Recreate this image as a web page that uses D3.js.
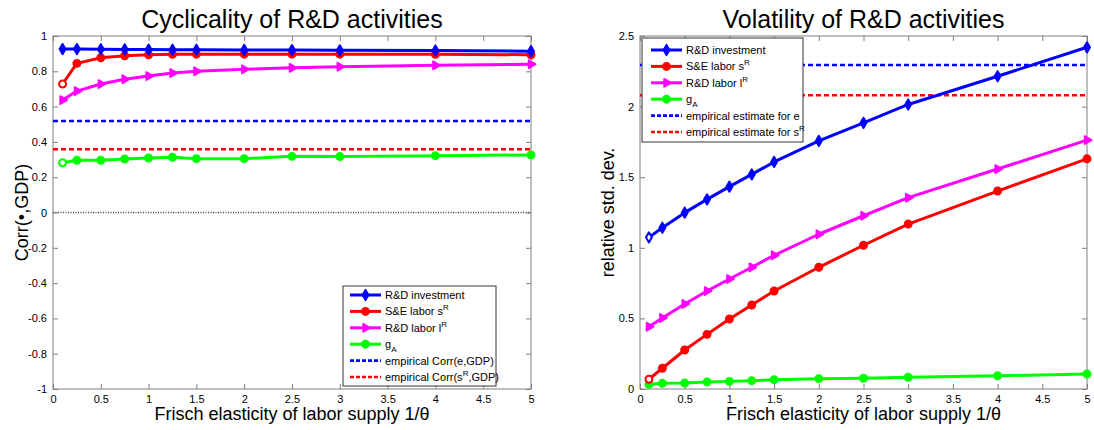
<!DOCTYPE html>
<html>
<head>
<meta charset="utf-8">
<script src="https://cdn.jsdelivr.net/npm/d3@7"></script>
<style>
  html, body { margin: 0; padding: 0; background: #fff; }
  svg text { font-family: "Liberation Sans", Arial, sans-serif; fill: #000; }
</style>
</head>
<body>
<svg id="fig" width="1094" height="430"></svg>
<script>
// Frisch elasticity grid
const frisch = [0.1, 0.25, 0.5, 0.75, 1, 1.25, 1.5, 2, 2.5, 3, 4, 5];

// Cyclicality: correlation with GDP
const corrInvest = [0.926, 0.926, 0.925, 0.924, 0.923, 0.922, 0.922, 0.921, 0.920, 0.919, 0.918, 0.914];
const corrSE     = [0.728, 0.845, 0.877, 0.888, 0.894, 0.896, 0.897, 0.897, 0.897, 0.897, 0.896, 0.894];
const corrLabor  = [0.637, 0.688, 0.728, 0.755, 0.773, 0.790, 0.800, 0.811, 0.820, 0.826, 0.834, 0.840];
const corrGA     = [0.282, 0.296, 0.296, 0.303, 0.309, 0.313, 0.305, 0.305, 0.318, 0.317, 0.322, 0.326];
const corrEmpE   = 0.518;
const corrEmpSR  = 0.358;

// Volatility: std. dev. relative to GDP
const volInvest = [1.074, 1.142, 1.249, 1.343, 1.433, 1.520, 1.608, 1.757, 1.885, 2.015, 2.215, 2.420];
const volSE     = [0.069, 0.147, 0.276, 0.387, 0.496, 0.595, 0.694, 0.862, 1.018, 1.168, 1.402, 1.630];
const volLabor  = [0.441, 0.503, 0.602, 0.694, 0.779, 0.862, 0.947, 1.096, 1.227, 1.355, 1.558, 1.763];
const volGA     = [0.033, 0.040, 0.042, 0.050, 0.054, 0.059, 0.066, 0.073, 0.076, 0.083, 0.094, 0.106];
const volEmpE   = 2.295;
const volEmpSR  = 2.080;

const xTicks = [0, 0.5, 1, 1.5, 2, 2.5, 3, 3.5, 4, 4.5, 5];
const corrTicks = [-1, -0.8, -0.6, -0.4, -0.2, 0, 0.2, 0.4, 0.6, 0.8, 1];
const volTicks = [0, 0.5, 1, 1.5, 2, 2.5];

const BLUE = "#0000ff", RED = "#ff0000", MAG = "#ff00ff", GRN = "#00ff00";
const AXIS = "#7f7f7f";

const svg = d3.select("#fig");

function fmt(v) { return String(+v.toFixed(2)); }

function panel(opt) {
  const { left, right, top, bottom, yDomain, yTicks } = opt;
  const x = d3.scaleLinear().domain([0, 5]).range([left, right]);
  const y = d3.scaleLinear().domain(yDomain).range([bottom, top]);
  const g = svg.append("g");

  // box and ticks
  g.append("rect").attr("x", left).attr("y", top)
    .attr("width", right - left).attr("height", bottom - top)
    .attr("fill", "none").attr("stroke", AXIS).attr("stroke-width", 1);

  const xb = d3.axisBottom(x).tickValues(xTicks).tickSize(-5).tickPadding(6).tickFormat(fmt);
  const xt = d3.axisTop(x).tickValues(xTicks).tickSize(-5).tickFormat("");
  const yl = d3.axisLeft(y).tickValues(yTicks).tickSize(-5).tickPadding(6).tickFormat(fmt);
  const yr = d3.axisRight(y).tickValues(yTicks).tickSize(-5).tickFormat("");

  function style(sel) {
    sel.select(".domain").remove();
    sel.selectAll(".tick line").attr("stroke", AXIS);
    sel.selectAll(".tick text").attr("font-size", 11)
      .attr("font-family", "'Liberation Sans', Arial, sans-serif").attr("fill", "#000");
  }
  g.append("g").attr("transform", `translate(0,${bottom})`).call(xb).call(style);
  g.append("g").attr("transform", `translate(0,${top})`).call(xt).call(style);
  g.append("g").attr("transform", `translate(${left},0)`).call(yl).call(style);
  g.append("g").attr("transform", `translate(${right},0)`).call(yr).call(style);

  // title and axis labels
  g.append("text").attr("x", (left + right) / 2).attr("y", 28)
    .attr("text-anchor", "middle").attr("font-size", 25).text(opt.title);
  g.append("text").attr("x", (left + right) / 2).attr("y", 420)
    .attr("text-anchor", "middle").attr("font-size", 18)
    .text("Frisch elasticity of labor supply 1/θ");
  g.append("text")
    .attr("transform", `translate(${opt.ylabX},${(top + bottom) / 2}) rotate(-90)`)
    .attr("text-anchor", "middle").attr("font-size", 18).text(opt.ylabel);

  return { g, x, y };
}

function hline(p, v, color) {
  p.g.append("line")
    .attr("x1", p.x(0)).attr("x2", p.x(5)).attr("y1", p.y(v)).attr("y2", p.y(v))
    .attr("stroke", color).attr("stroke-width", 2.6)
    .attr("stroke-dasharray", "5,3");
}

const symbols = {
  diamond: d3.symbol().type(d3.symbolDiamond).size(30),
  circle: d3.symbol().type(d3.symbolCircle).size(38),
  triangle: d3.symbol().type(d3.symbolTriangle).size(26)
};

function series(p, vals, color, shape, hollow) {
  const line = d3.line().x((d, i) => p.x(frisch[i])).y(d => p.y(d));
  p.g.append("path").datum(vals).attr("d", line)
    .attr("fill", "none").attr("stroke", color).attr("stroke-width", 3)
    .attr("stroke-linejoin", "round");
  p.g.selectAll(null).data(vals).enter().append("path")
    .attr("d", symbols[shape])
    .attr("transform", (d, i) => `translate(${p.x(frisch[i])},${p.y(d)})` + (shape === "triangle" ? " rotate(90)" : ""))
    .attr("fill", (d, i) => (hollow || []).includes(i) ? "#fff" : color)
    .attr("stroke", color).attr("stroke-width", 2)
    .attr("stroke-linejoin", "round");
}

function legend(p, box, rows) {
  const lg = p.g.append("g");
  lg.append("rect").attr("x", box.x).attr("y", box.y).attr("width", box.w).attr("height", box.h)
    .attr("fill", "#fff").attr("stroke", "#333").attr("stroke-width", 1);
  rows.forEach((r, i) => {
    const yy = box.y + box.first + i * box.step;
    const x0 = box.x + box.lineX0, x1 = box.x + box.lineX1;
    lg.append("line").attr("x1", x0).attr("x2", x1).attr("y1", yy).attr("y2", yy)
      .attr("stroke", r.color).attr("stroke-width", r.dash ? 2.6 : 3)
      .attr("stroke-dasharray", r.dash ? "4,2" : null);
    if (r.shape) {
      lg.append("path").attr("d", symbols[r.shape])
        .attr("transform", `translate(${(x0 + x1) / 2},${yy})` + (r.shape === "triangle" ? " rotate(90)" : ""))
        .attr("fill", r.color).attr("stroke", r.color).attr("stroke-width", 2)
        .attr("stroke-linejoin", "round");
    }
    const t = lg.append("text").attr("x", x1 + 4).attr("y", yy + 4).attr("font-size", 11);
    r.parts.forEach(pt => {
      const ts = t.append("tspan").text(pt.t);
      if (pt.sup) ts.attr("font-size", 8).attr("dy", -5);
      if (pt.sub) ts.attr("font-size", 8).attr("dy", 4);
      if (pt.after === "sup") ts.attr("dy", 5);
    });
  });
}

// ---- left panel: cyclicality ----
const L = panel({
  left: 53, right: 531, top: 36, bottom: 389,
  yDomain: [-1, 1], yTicks: corrTicks,
  title: "Cyclicality of R&D activities",
  ylabel: "Corr(\u2022,GDP)", ylabX: 28
});
L.g.append("line").attr("x1", L.x(0)).attr("x2", L.x(5)).attr("y1", L.y(0)).attr("y2", L.y(0))
  .attr("stroke", "#444").attr("stroke-width", 1.3).attr("stroke-dasharray", "1,1.5");
hline(L, corrEmpE, BLUE);
hline(L, corrEmpSR, RED);
series(L, corrGA, GRN, "circle", [0]);
series(L, corrLabor, MAG, "triangle");
series(L, corrSE, RED, "circle", [0]);
series(L, corrInvest, BLUE, "diamond");

legend(L, { x: 343, y: 286, w: 153, h: 100, first: 9, step: 16.4, lineX0: 7, lineX1: 38 }, [
  { color: BLUE, shape: "diamond", parts: [{ t: "R&D investment" }] },
  { color: RED, shape: "circle", parts: [{ t: "S&E labor s" }, { t: "R", sup: true }] },
  { color: MAG, shape: "triangle", parts: [{ t: "R&D labor l" }, { t: "R", sup: true }] },
  { color: GRN, shape: "circle", parts: [{ t: "g" }, { t: "A", sub: true }] },
  { color: BLUE, dash: true, parts: [{ t: "empirical Corr(e,GDP)" }] },
  { color: RED, dash: true, parts: [{ t: "empirical Corr(s" }, { t: "R", sup: true }, { t: ",GDP)", after: "sup" }] }
]);

// ---- right panel: volatility ----
const R = panel({
  left: 640, right: 1087, top: 36, bottom: 389,
  yDomain: [0, 2.5], yTicks: volTicks,
  title: "Volatility of R&D activities",
  ylabel: "relative std. dev.", ylabX: 614
});
hline(R, volEmpE, BLUE);
hline(R, volEmpSR, RED);
series(R, volGA, GRN, "circle");
series(R, volSE, RED, "circle", [0]);
series(R, volLabor, MAG, "triangle");
series(R, volInvest, BLUE, "diamond", [0]);

legend(R, { x: 642, y: 38, w: 161, h: 104, first: 12, step: 16.4, lineX0: 9, lineX1: 40 }, [
  { color: BLUE, shape: "diamond", parts: [{ t: "R&D investment" }] },
  { color: RED, shape: "circle", parts: [{ t: "S&E labor s" }, { t: "R", sup: true }] },
  { color: MAG, shape: "triangle", parts: [{ t: "R&D labor l" }, { t: "R", sup: true }] },
  { color: GRN, shape: "circle", parts: [{ t: "g" }, { t: "A", sub: true }] },
  { color: BLUE, dash: true, parts: [{ t: "empirical estimate for e" }] },
  { color: RED, dash: true, parts: [{ t: "empirical estimate for s" }, { t: "R", sup: true }] }
]);
</script>
</body>
</html>
